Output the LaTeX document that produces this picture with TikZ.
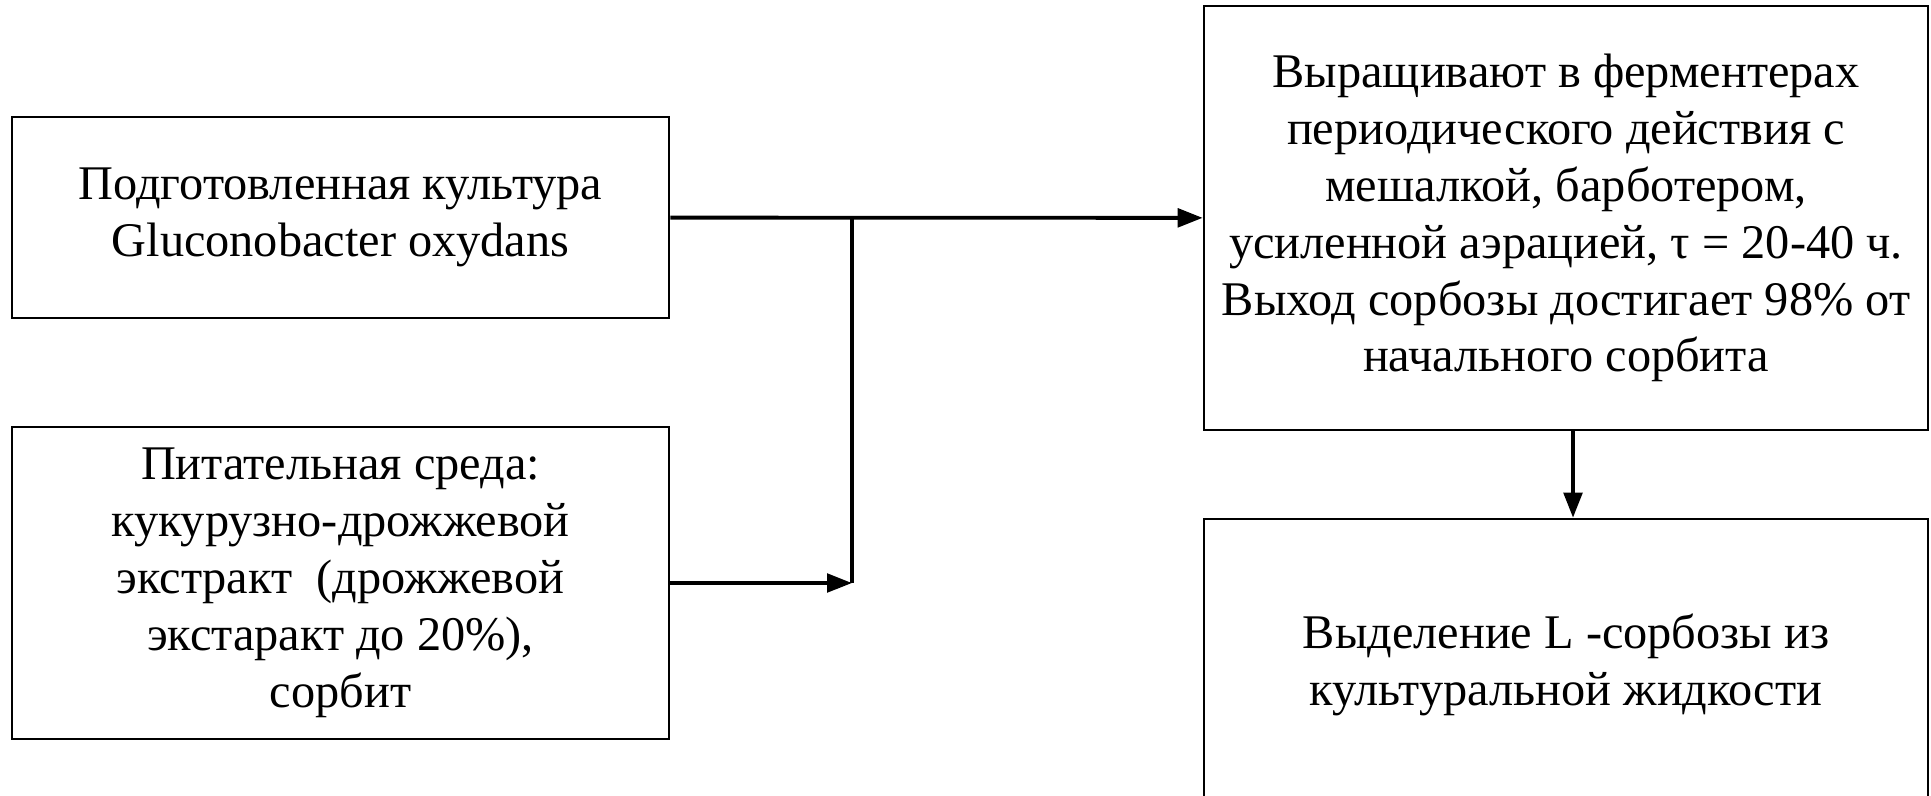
\documentclass[tikz,border=0pt]{standalone}
\usepackage{fontspec}
\setmainfont{Liberation Serif}
\usetikzlibrary{arrows.meta, positioning, calc}

\begin{document}
\begin{tikzpicture}[
  stage/.style={rectangle, draw=black, line width=1.5pt, inner sep=0pt,
    align=center, font=\fontsize{27.5}{32.4}\selectfont},
  arr/.style={-{Triangle[length=0.5cm, width=0.37cm]}, line width=2.2pt},
  link/.style={line width=2.2pt},
]
\useasboundingbox (0,0) rectangle (38.62,-15.9);

\node[stage, minimum width=13.14cm, minimum height=4.02cm] (culture) at (6.81,-4.35)
  {Подготовленная культура\\Gluconobacter oxydans};
\node[stage, minimum width=13.14cm, minimum height=6.24cm] (medium) at (6.81,-11.66)
  {Питательная среда:\\кукурузно-дрожжевой\\экстракт\ \ (дрожжевой\\экстаракт до 20\%),\\сорбит};
\node[stage, minimum width=14.48cm, minimum height=8.48cm] (ferment) at (31.32,-4.36)
  {Выращивают в ферментерах\\периодического действия с\\мешалкой, барботером,\\усиленной аэрацией, τ = 20-40 ч.\\Выход сорбозы достигает 98\% от\\начального сорбита};
\node[stage, minimum width=14.48cm, minimum height=5.84cm] (isolate) at (31.32,-13.3)
  {Выделение L -сорбозы из\\культуральной жидкости};

\coordinate (jtop) at (17.04,-4.35);
\coordinate (jbot) at (jtop |- medium.east);

\draw[arr] (culture) -- (ferment);
\draw[link] (jtop) -- (jbot);
\draw[arr] (medium) -- (jbot);
\draw[arr] ([xshift=0.14cm]ferment.south) -- ([xshift=0.14cm]isolate.north);

\end{tikzpicture}
\end{document}
